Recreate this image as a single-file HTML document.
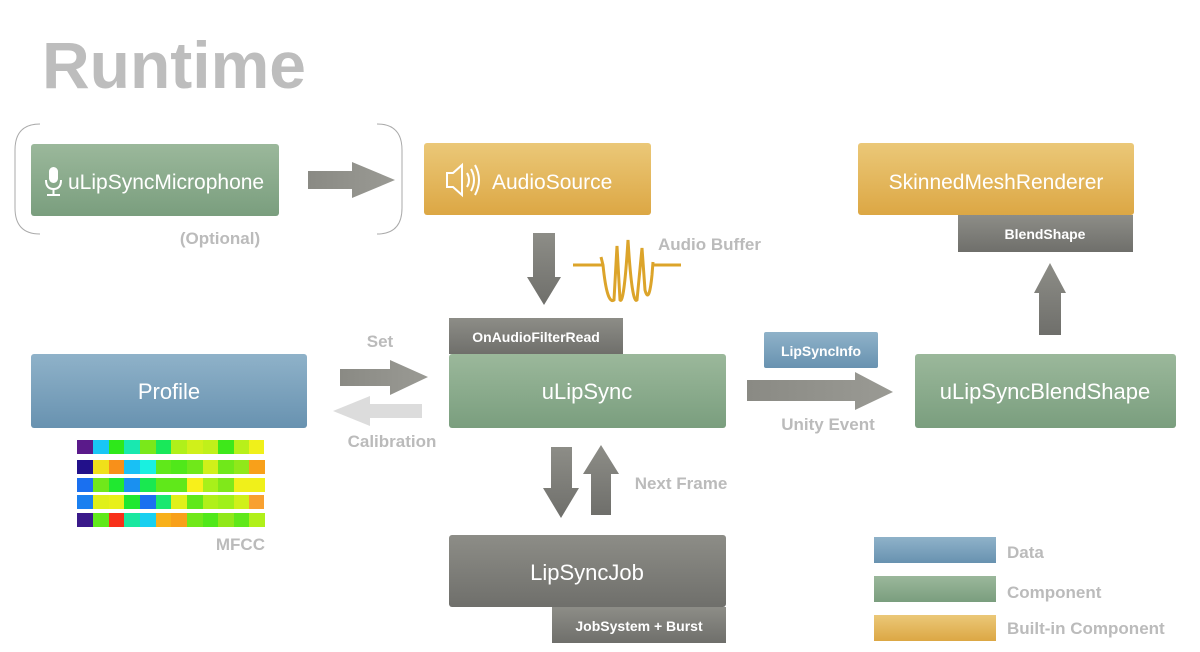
<!DOCTYPE html>
<html><head><meta charset="utf-8"><style>
html,body{margin:0;padding:0;background:#fff;}
svg{display:block;font-family:"Liberation Sans",sans-serif;}
</style></head><body>
<svg width="1200" height="652" viewBox="0 0 1200 652" xmlns="http://www.w3.org/2000/svg">
<defs>
<linearGradient id="g" x1="0" y1="0" x2="0" y2="1"><stop offset="0" stop-color="#9bb89b"/><stop offset="1" stop-color="#7a9e7e"/></linearGradient>
<linearGradient id="y" x1="0" y1="0" x2="0" y2="1"><stop offset="0" stop-color="#ebc878"/><stop offset="1" stop-color="#dca744"/></linearGradient>
<linearGradient id="b" x1="0" y1="0" x2="0" y2="1"><stop offset="0" stop-color="#8fb2c9"/><stop offset="1" stop-color="#6892b0"/></linearGradient>
<linearGradient id="k" x1="0" y1="0" x2="0" y2="1"><stop offset="0" stop-color="#8d8d87"/><stop offset="1" stop-color="#6f6f6b"/></linearGradient>
<linearGradient id="a" x1="0" y1="0" x2="1" y2="0"><stop offset="0" stop-color="#8a8a84"/><stop offset="1" stop-color="#9a9a94"/></linearGradient>
</defs>
<text x="42" y="88" font-size="66" font-weight="bold" fill="#bdbdbd">Runtime</text>

<path d="M40 124 Q15 124 15 150 V208 Q15 234 40 234" fill="none" stroke="#aaa" stroke-width="1"/>
<path d="M377 124 Q402 124 402 150 V208 Q402 234 377 234" fill="none" stroke="#aaa" stroke-width="1"/>

<rect x="31" y="144" width="248" height="72" rx="3" fill="url(#g)"/>
<g fill="none" stroke="#fff" stroke-width="2">
<rect x="50" y="168" width="7" height="14" rx="3.5" fill="#fff"/>
<path d="M46 180 Q46 189 53.5 189 Q61 189 61 180 M53.5 189 V195 M47 195 H60"/>
</g>
<text x="68" y="189" font-size="21" fill="#fff">uLipSyncMicrophone</text>
<text x="220" y="244" font-size="17" font-weight="bold" fill="#bbb" text-anchor="middle">(Optional)</text>

<polygon points="308,171 352,171 352,162 395,180 352,198 352,189 308,189" fill="url(#a)"/>

<rect x="424" y="143" width="227" height="72" rx="3" fill="url(#y)"/>
<g fill="none" stroke="#fff" stroke-width="2">
<path d="M447 173 H453 L462 165 V195 L453 187 H447 Z"/>
<path d="M467 173 Q471 180 467 187 M471 169 Q477 180 471 191 M475 165 Q483 180 475 195"/>
</g>
<text x="492" y="189" font-size="21" fill="#fff">AudioSource</text>

<rect x="858" y="143" width="276" height="72" rx="3" fill="url(#y)"/>
<text x="996" y="189" font-size="21" fill="#fff" text-anchor="middle">SkinnedMeshRenderer</text>
<rect x="958" y="215" width="175" height="37" fill="url(#k)"/>
<text x="1045" y="239" font-size="14" font-weight="bold" fill="#fff" text-anchor="middle">BlendShape</text>

<polygon points="1039,335 1061,335 1061,293 1066,293 1050,263 1034,293 1039,293" fill="url(#k)"/>

<polygon points="533,233 555,233 555,277 561,277 544,305 527,277 533,277" fill="url(#k)"/>
<path d="M573 265 H603 M653 265 H681" stroke="#dca42a" stroke-width="3" fill="none"/>
<path d="M601 257 L603 265 Q607 305 614 300 L617 246 L620 300 Q624 305 628 240 Q632 305 637 300 L642 248 L645 290 Q649 305 652 275 L653 262" stroke="#dca42a" stroke-width="3" fill="none"/>
<text x="658" y="250" font-size="17" font-weight="bold" fill="#bbb">Audio Buffer</text>

<rect x="449" y="318" width="174" height="36" fill="url(#k)"/>
<text x="536" y="342" font-size="14" font-weight="bold" fill="#fff" text-anchor="middle">OnAudioFilterRead</text>
<rect x="449" y="354" width="277" height="74" rx="3" fill="url(#g)"/>
<text x="587" y="399" font-size="22" fill="#fff" text-anchor="middle">uLipSync</text>

<rect x="31" y="354" width="276" height="74" rx="3" fill="url(#b)"/>
<text x="169" y="399" font-size="22" fill="#fff" text-anchor="middle">Profile</text>

<text x="380" y="347" font-size="17" font-weight="bold" fill="#bbb" text-anchor="middle">Set</text>
<polygon points="340,369 390,369 390,360 428,377 390,395 390,386 340,386" fill="url(#a)"/>
<polygon points="422,404 370,404 370,396 333,411 370,426 370,418 422,418" fill="#dcdcdc"/>
<text x="392" y="447" font-size="17" font-weight="bold" fill="#bbb" text-anchor="middle">Calibration</text>

<g transform="translate(77,440)">
<rect x="0" y="0" width="16" height="14" fill="#5a1a8a"/><rect x="16" y="0" width="16" height="14" fill="#19c6f5"/><rect x="32" y="0" width="15" height="14" fill="#2ee81a"/><rect x="47" y="0" width="16" height="14" fill="#19e8b0"/><rect x="63" y="0" width="16" height="14" fill="#7ae81a"/><rect x="79" y="0" width="15" height="14" fill="#19e85a"/><rect x="94" y="0" width="16" height="14" fill="#b0f01a"/><rect x="110" y="0" width="16" height="14" fill="#d0f01a"/><rect x="126" y="0" width="15" height="14" fill="#c0f01a"/><rect x="141" y="0" width="16" height="14" fill="#3ee81a"/><rect x="157" y="0" width="15" height="14" fill="#b8f01a"/><rect x="172" y="0" width="15" height="14" fill="#f0f01a"/>
</g>
<g transform="translate(77,460)">
<rect x="0" y="0" width="16" height="14" fill="#22108a"/><rect x="16" y="0" width="16" height="14" fill="#f0e01a"/><rect x="32" y="0" width="15" height="14" fill="#f8901a"/><rect x="47" y="0" width="16" height="14" fill="#19c0f5"/><rect x="63" y="0" width="16" height="14" fill="#19f0e0"/><rect x="79" y="0" width="15" height="14" fill="#60e81a"/><rect x="94" y="0" width="16" height="14" fill="#50e81a"/><rect x="110" y="0" width="16" height="14" fill="#70e81a"/><rect x="126" y="0" width="15" height="14" fill="#d0f01a"/><rect x="141" y="0" width="16" height="14" fill="#70e81a"/><rect x="157" y="0" width="15" height="14" fill="#90e81a"/><rect x="172" y="0" width="16" height="14" fill="#f8a01a"/>
</g>
<g transform="translate(77,478)">
<rect x="0" y="0" width="16" height="14" fill="#1a70f0"/><rect x="16" y="0" width="16" height="14" fill="#70e81a"/><rect x="32" y="0" width="15" height="14" fill="#20e830"/><rect x="47" y="0" width="16" height="14" fill="#1a90f0"/><rect x="63" y="0" width="16" height="14" fill="#19e850"/><rect x="79" y="0" width="15" height="14" fill="#60e81a"/><rect x="94" y="0" width="16" height="14" fill="#60e81a"/><rect x="110" y="0" width="16" height="14" fill="#f8f01a"/><rect x="126" y="0" width="15" height="14" fill="#a8f01a"/><rect x="141" y="0" width="16" height="14" fill="#80e81a"/><rect x="157" y="0" width="15" height="14" fill="#f0f01a"/><rect x="172" y="0" width="16" height="14" fill="#f0f01a"/>
</g>
<g transform="translate(77,495)">
<rect x="0" y="0" width="16" height="14" fill="#1a80f0"/><rect x="16" y="0" width="16" height="14" fill="#e0f01a"/><rect x="32" y="0" width="15" height="14" fill="#e8f01a"/><rect x="47" y="0" width="16" height="14" fill="#20e830"/><rect x="63" y="0" width="16" height="14" fill="#1a70f0"/><rect x="79" y="0" width="15" height="14" fill="#19e870"/><rect x="94" y="0" width="16" height="14" fill="#e0f01a"/><rect x="110" y="0" width="16" height="14" fill="#60e81a"/><rect x="126" y="0" width="15" height="14" fill="#b0f01a"/><rect x="141" y="0" width="16" height="14" fill="#a0f01a"/><rect x="157" y="0" width="15" height="14" fill="#d0f01a"/><rect x="172" y="0" width="15" height="14" fill="#f8a030"/>
</g>
<g transform="translate(77,513)">
<rect x="0" y="0" width="16" height="14" fill="#3a1a8a"/><rect x="16" y="0" width="16" height="14" fill="#60e81a"/><rect x="32" y="0" width="15" height="14" fill="#f8301a"/><rect x="47" y="0" width="16" height="14" fill="#19e8a0"/><rect x="63" y="0" width="16" height="14" fill="#19d0f0"/><rect x="79" y="0" width="15" height="14" fill="#f8b01a"/><rect x="94" y="0" width="16" height="14" fill="#f8a01a"/><rect x="110" y="0" width="16" height="14" fill="#70e81a"/><rect x="126" y="0" width="15" height="14" fill="#50e81a"/><rect x="141" y="0" width="16" height="14" fill="#90e81a"/><rect x="157" y="0" width="15" height="14" fill="#60e81a"/><rect x="172" y="0" width="16" height="14" fill="#b0f01a"/>
</g>
<text x="265" y="550" font-size="17" font-weight="bold" fill="#bbb" text-anchor="end">MFCC</text>

<rect x="764" y="332" width="114" height="36" rx="2" fill="url(#b)"/>
<text x="821" y="356" font-size="14" font-weight="bold" fill="#fff" text-anchor="middle">LipSyncInfo</text>
<polygon points="747,380 855,380 855,372 893,392 855,410 855,401 747,401" fill="url(#a)"/>
<text x="828" y="430" font-size="17" font-weight="bold" fill="#bbb" text-anchor="middle">Unity Event</text>

<rect x="915" y="354" width="261" height="74" rx="3" fill="url(#g)"/>
<text x="1045" y="399" font-size="22" fill="#fff" text-anchor="middle">uLipSyncBlendShape</text>

<polygon points="551,447 572,447 572,488 579,488 561,518 543,488 551,488" fill="url(#k)"/>
<polygon points="591,515 611,515 611,474 619,474 601,445 583,474 591,474" fill="url(#k)"/>
<text x="681" y="489" font-size="17" font-weight="bold" fill="#bbb" text-anchor="middle">Next Frame</text>

<rect x="449" y="535" width="277" height="72" rx="3" fill="url(#k)"/>
<text x="587" y="580" font-size="22" fill="#fff" text-anchor="middle">LipSyncJob</text>
<rect x="552" y="607" width="174" height="36" fill="url(#k)"/>
<text x="639" y="631" font-size="14" font-weight="bold" fill="#fff" text-anchor="middle">JobSystem + Burst</text>

<rect x="874" y="537" width="122" height="26" fill="url(#b)"/>
<text x="1007" y="558" font-size="17" font-weight="bold" fill="#bbb">Data</text>
<rect x="874" y="576" width="122" height="26" fill="url(#g)"/>
<text x="1007" y="598" font-size="17" font-weight="bold" fill="#bbb">Component</text>
<rect x="874" y="615" width="122" height="26" fill="url(#y)"/>
<text x="1007" y="634" font-size="17" font-weight="bold" fill="#bbb">Built-in Component</text>
</svg>
</body></html>
